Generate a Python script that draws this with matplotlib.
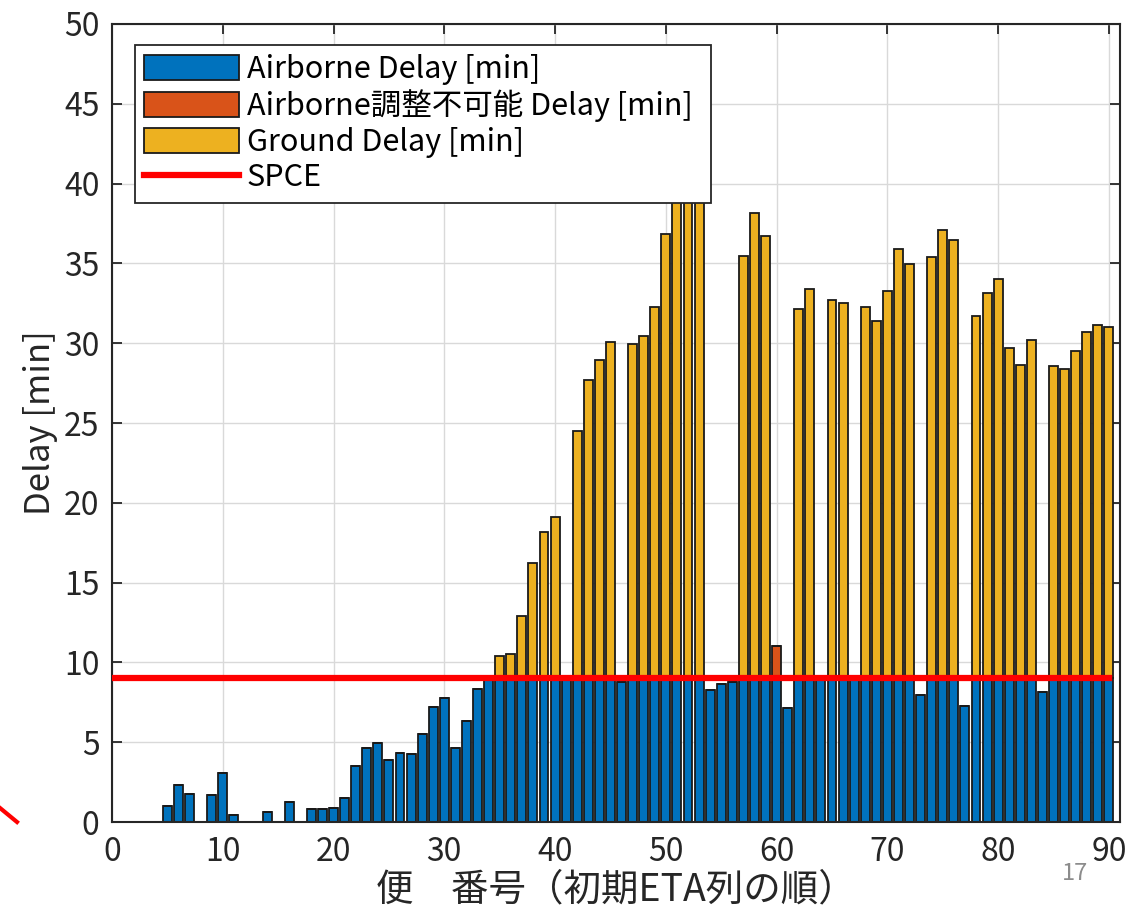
"""
Delay per flight: airborne / uncontrollable airborne / ground delay, with SPCE line
"""
import matplotlib
matplotlib.use("Agg")
import matplotlib.pyplot as plt
from matplotlib.lines import Line2D

plt.rcParams['font.family'] = ['Noto Sans CJK JP', 'DejaVu Sans']

# flight numbers 1..90 (ordered by initial ETA)
flights = list(range(1, 91))

# airborne delay [min]
airborne = [0, 0, 0, 0, 1.0, 2.35, 1.77, 0, 1.71, 3.08,
            0.46, 0, 0, 0.65, 0, 1.25, 0, 0.79, 0.83, 0.87,
            1.52, 3.5, 4.65, 4.96, 3.88, 4.31, 4.25, 5.5, 7.2, 7.8,
            4.63, 6.33, 8.33, 9, 9, 9, 9, 9, 9, 9,
            9, 9, 9, 9, 9, 8.75, 9, 9, 9, 9,
            9, 9, 9, 8.27, 8.65, 8.75, 9, 9, 9, 9,
            7.15, 9, 9, 9, 9, 9, 9, 9, 9, 9,
            9, 9, 7.96, 9, 9, 9, 7.3, 9, 9, 9,
            9, 9, 9, 8.17, 9, 9, 9, 9, 9, 9]

# airborne delay that could not be absorbed [min]
airborne_ng = [0] * 59 + [2.0] + [0] * 30

# ground delay [min]
ground = [0, 0, 0, 0, 0, 0, 0, 0, 0, 0,
          0, 0, 0, 0, 0, 0, 0, 0, 0, 0,
          0, 0, 0, 0, 0, 0, 0, 0, 0, 0,
          0, 0, 0, 0, 1.42, 1.52, 3.92, 7.25, 9.17, 10.1,
          0, 15.48, 18.7, 19.96, 21.1, 0, 20.96, 21.48, 23.27, 27.84,
          32.0, 33.0, 32.0, 0, 0, 0, 26.44, 29.17, 27.69, 0,
          0, 23.13, 24.42, 0, 23.7, 23.54, 0, 23.26, 22.4, 24.3,
          26.88, 25.94, 0, 26.38, 28.1, 27.44, 0, 22.71, 24.13, 25.0,
          20.73, 19.63, 21.17, 0, 19.6, 19.36, 20.54, 21.7, 22.13, 22.02]

spce_value = 9
spce_x = [0, 90]

labels = ['Airborne Delay [min]', 'Airborne調整不可能 Delay [min]',
          'Ground Delay [min]', 'SPCE']

blue = '#0072BD'
orange = '#D95319'
yellow = '#EDB120'

fig = plt.figure(figsize=(11.28, 9.16), dpi=100)
ax = fig.add_axes([0.0993, 0.1026, 0.8936, 0.8712])

bottom2 = [a + b for a, b in zip(airborne, airborne_ng)]
b1 = ax.bar(flights, airborne, width=0.8, color=blue, edgecolor='#1a1a1a',
            linewidth=1.3, zorder=2)
b2 = ax.bar(flights, airborne_ng, width=0.8, bottom=airborne, color=orange,
            edgecolor='#1a1a1a', linewidth=1.3, zorder=2)
b3 = ax.bar(flights, ground, width=0.8, bottom=bottom2, color=yellow,
            edgecolor='#1a1a1a', linewidth=1.3, zorder=2)
l1, = ax.plot(spce_x, [spce_value] * 2, color='#ff0000', linewidth=4.5,
              zorder=3)

ax.set_xlim(0, 91)
ax.set_ylim(0, 50)
ax.set_xticks(range(0, 91, 10))
ax.set_yticks(range(0, 51, 5))
ax.grid(True, color='#d9d9d9', linewidth=1.0, zorder=0)
ax.set_axisbelow(True)
ax.tick_params(direction='in', top=True, right=True, length=7, width=1.3,
               labelsize=23, colors='#262626')
ax.tick_params(axis='x', pad=10)
ax.tick_params(axis='y', pad=9)
for s in ax.spines.values():
    s.set_linewidth(1.5)
    s.set_color('#262626')

ax.set_xlabel('便　番号（初期ETA列の順）', fontsize=27, color='#262626', labelpad=2)
ax.set_ylabel('Delay [min]', fontsize=25, color='#262626', labelpad=4)

leg = ax.legend([b1, b2, b3, l1], labels, loc='upper left',
                bbox_to_anchor=(0.0228, 0.0, 0.5714, 0.974), mode='expand',
                borderaxespad=0, fontsize=22, handlelength=3.1,
                handleheight=0.9, labelspacing=0.15, handletextpad=0.25,
                borderpad=0.3, fancybox=False, framealpha=1,
                edgecolor='#262626')
leg.get_frame().set_linewidth(1.3)
leg.set_zorder(10)

# page number and slide decoration
fig.text(1075 / 1128, 1 - 873 / 916, '17', fontsize=17, color='#8c8c8c',
         ha='center', va='center')
fig.add_artist(Line2D([0, 17 / 1128], [1 - 808 / 916, 1 - 822 / 916],
                      color='#ff0000', linewidth=3))

fig.savefig('out.png', dpi=100)
